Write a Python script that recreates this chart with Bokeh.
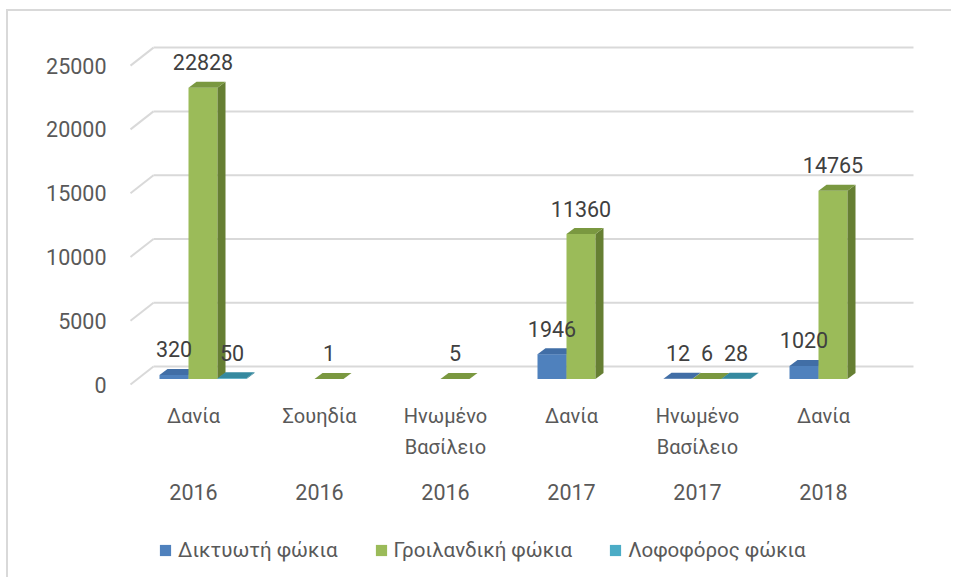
from bokeh.plotting import figure
from bokeh.models import Range1d, FixedTicker, Legend, LegendItem
from bokeh.embed import file_html
from bokeh.resources import INLINE
from bokeh.core.properties import value

# ---------------- data ----------------
countries = ["Δανία", "Σουηδία", "Ηνωμένο\nΒασίλειο", "Δανία", "Ηνωμένο\nΒασίλειο", "Δανία"]
years = ["2016", "2016", "2016", "2017", "2017", "2018"]
series_names = ["Δικτυωτή φώκια", "Γροιλανδική φώκια", "Λοφοφόρος φώκια"]
harp_net = [320, None, None, 1946, 12, 1020]        # Δικτυωτή φώκια
harp_green = [22828, 1, 5, 11360, 6, 14765]         # Γροιλανδική φώκια
hooded = [50, None, None, None, 28, None]           # Λοφοφόρος φώκια
y_ticks = [0, 5000, 10000, 15000, 20000, 25000]

# ---------------- style / layout ----------------
FONT = "Roboto"
FS = "21.5px"        # numbers
FS_T = "20px"        # greek category texts
FS_L = "20.5px"      # legend texts
TXT = "#595959"
LBL = "#404040"
GRID = "#d9d9d9"
face_colors = [("#4f81bd", "#385e8e", "#416ea6"),
               ("#9bbb59", "#667f33", "#7a9840"),
               ("#4bacc6", "#2f7e93", "#35899f")]

W, H = 945, 568
B_LEFT, B_TOP = 120, 0
PX_X = 126.0          # pixels per category
Y_PER_PX = 78.4       # data units per pixel (vertical)


def px_x(n):
    return n / PX_X


def px_y(n):
    return n * Y_PER_PX


x0 = -65.0 / PX_X
x1 = x0 + (W - B_LEFT) / PX_X
y1 = px_y(373)
y0 = y1 - px_y(H - B_TOP)

p = figure(width=W, height=H, x_range=Range1d(x0, x1), y_range=Range1d(y0, y1),
           output_backend="svg", toolbar_location=None, x_axis_location=None,
           min_border_left=B_LEFT, min_border_right=0, min_border_top=B_TOP, min_border_bottom=0)
p.outline_line_color = None
p.grid.visible = False
p.background_fill_color = "white"
p.border_fill_color = "white"
p.styles = {"border-left": "2px solid #d9d9d9", "border-top": "2px solid #d9d9d9",
            "margin-left": "6px", "margin-top": "9px"}

ax = p.yaxis[0]
ax.ticker = FixedTicker(ticks=y_ticks)
ax.axis_line_color = None
ax.major_tick_line_color = None
ax.minor_tick_line_color = None
ax.major_label_standoff = 16
ax.major_label_text_font = FONT
ax.major_label_text_font_size = FS
ax.major_label_text_color = TXT

# ---------------- 3D walls (gridlines) ----------------
wall_x = x0 + px_x(2)
DXW, DYW = px_x(23), px_y(18)
right_x = x0 + px_x(785)
p.segment(x0=[wall_x] * len(y_ticks), y0=y_ticks,
          x1=[wall_x + DXW] * len(y_ticks), y1=[t + DYW for t in y_ticks],
          line_color=GRID, line_width=2)
p.segment(x0=[wall_x + DXW] * len(y_ticks), y0=[t + DYW for t in y_ticks],
          x1=[right_x] * len(y_ticks), y1=[t + DYW for t in y_ticks],
          line_color=GRID, line_width=2)

# ---------------- 3D bars ----------------
BW = px_x(29)
OX, OY = px_x(9.5), px_y(5.5)
DX, DY = px_x(8), px_y(6)

legend_items = []
label_x, label_y, label_t = [], [], []
for k, (name, vals) in enumerate(zip(series_names, [harp_net, harp_green, hooded])):
    front, side, top = face_colors[k]
    xs_c, tops = [], []
    for i, v in enumerate(vals):
        if v is None:
            continue
        xs_c.append(i + OX + (k - 1) * BW)
        tops.append(v)
    label_x += xs_c
    label_y += tops
    label_t += [str(t) for t in tops]
    bottom = OY
    r = p.vbar(x=xs_c, width=BW, bottom=bottom, top=[t + OY for t in tops],
               fill_color=front, line_color=None)
    p.patches(xs=[[c + BW / 2, c + BW / 2 + DX, c + BW / 2 + DX, c + BW / 2] for c in xs_c],
              ys=[[bottom, bottom + DY, t + OY + DY, t + OY] for t in tops],
              fill_color=side, line_color=None)
    p.patches(xs=[[c - BW / 2, c + BW / 2, c + BW / 2 + DX, c - BW / 2 + DX] for c in xs_c],
              ys=[[t + OY, t + OY, t + OY + DY, t + OY + DY] for t in tops],
              fill_color=top, line_color=None)
    legend_items.append(LegendItem(label=name, renderers=[r]))

# data labels on top of every bar
p.text(x=label_x, y=label_y, text=label_t, x_offset=0, y_offset=-31,
       text_align="center", text_baseline="alphabetic",
       text_font=value(FONT), text_font_size=FS, text_color=LBL)

# ---------------- category labels ----------------
idx = list(range(len(countries)))
p.text(x=idx, y=[0] * len(idx), text=countries, y_offset=19,
       text_align="center", text_baseline="top", text_line_height=1.31,
       text_font=value(FONT), text_font_size=FS_T, text_color=TXT)
p.text(x=idx, y=[0] * len(idx), text=years, y_offset=107,
       text_align="center", text_baseline="middle",
       text_font=value(FONT), text_font_size=FS, text_color=TXT)

legend = Legend(items=legend_items, orientation="horizontal", location=(30, 17),
                glyph_width=14, glyph_height=14, label_standoff=6, spacing=36,
                padding=0, margin=0, border_line_color=None, background_fill_alpha=0,
                label_text_font=FONT, label_text_font_size=FS_L, label_text_color=TXT)
p.add_layout(legend)

open("out.html", "w").write(file_html(p, INLINE))
